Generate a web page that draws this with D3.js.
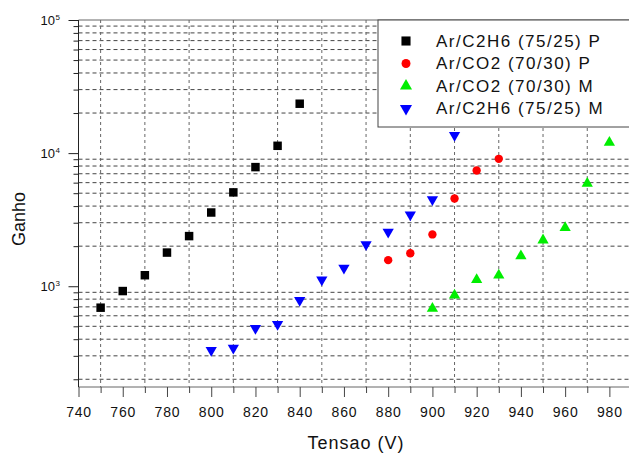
<!DOCTYPE html>
<html>
<head>
<meta charset="utf-8">
<script src="https://cdn.jsdelivr.net/npm/d3@7"></script>
<style>
	body { margin: 0; background: #fff; }
	svg { display: block; font-family: "Liberation Sans", Arial, sans-serif; }
</style>
</head>
<body>
<svg id="chart"></svg>
<script>
// data
const voltsC2H6P = [750, 760, 770, 780, 790, 800, 810, 820, 830, 840];
const gainC2H6P = [690, 920, 1210, 1790, 2380, 3580, 5070, 7850, 11350, 23500];
const voltsCO2P = [880, 890, 900, 910, 920, 930];
const gainCO2P = [1570, 1770, 2450, 4560, 7410, 9060];
const voltsCO2M = [900, 910, 920, 930, 940, 950, 960, 970, 980];
const gainCO2M = [680, 855, 1120, 1210, 1690, 2220, 2750, 5910, 12000];
const voltsC2H6M = [800, 810, 820, 830, 840, 850, 860, 870, 880, 890, 900, 910];
const gainC2H6M = [330, 344, 483, 518, 785, 1120, 1370, 2060, 2550, 3440, 4490, 13650];

const seriesNames = ["Ar/C2H6 (75/25) P", "Ar/CO2 (70/30) P", "Ar/CO2 (70/30) M", "Ar/C2H6 (75/25) M"];
const xTicks = d3.range(740, 1000, 20);
const xGrid = d3.range(750, 1000, 20);
const yMajor = [1e3, 1e4, 1e5];

const width = 629;
const height = 453;
const plotLeft = 78.5, plotTop = 20, plotBottom = 387;

const svg = d3.select("#chart").attr("width", width).attr("height", height);

const x = d3.scaleLinear().domain([740, 1000]).range([plotLeft, plotLeft + 260 * 2.212]);
const y = d3.scaleLog().domain([175, 1e5]).range([plotBottom, plotTop]);

// minor log values (2..9 x 10^n) used for gridlines and small ticks
const yMinor = [];
[100, 1000, 10000].forEach((d) => {
	for (let k = 2; k <= 9; k++) {
		const v = d * k;
		if (v >= 175 && v < 1e5) yMinor.push(v);
	}
});

// gridlines (only on minor ticks, like the original)
const grid = svg.append("g");
grid.selectAll("line.h")
	.data(yMinor)
	.join("line")
	.attr("x1", plotLeft).attr("x2", width)
	.attr("y1", (d) => y(d)).attr("y2", (d) => y(d))
	.attr("stroke", "#444")
	.attr("stroke-width", 1)
	.attr("stroke-dasharray", "4,3");
grid.selectAll("line.v")
	.data(xGrid)
	.join("line")
	.attr("x1", (d) => x(d)).attr("x2", (d) => x(d))
	.attr("y1", plotTop).attr("y2", plotBottom)
	.attr("stroke", "#666")
	.attr("stroke-width", 1)
	.attr("stroke-dasharray", "3,3");

// top frame
svg.append("line")
	.attr("x1", plotLeft).attr("x2", width)
	.attr("y1", plotTop).attr("y2", plotTop)
	.attr("stroke", "#666");

// x axis
const xAxis = svg.append("g")
	.attr("transform", `translate(0,${plotBottom})`)
	.call(d3.axisBottom(x).tickValues(xTicks).tickSize(10).tickPadding(10).tickFormat(d3.format("d")));
xAxis.select(".domain").attr("stroke", "#666").attr("d", `M${plotLeft},0H${width}`);
xAxis.selectAll(".tick line").attr("stroke", "#444");
xAxis.selectAll(".tick text")
	.attr("font-size", 14)
	.attr("letter-spacing", 0.8)
	.attr("fill", "#111");
svg.append("g")
	.attr("transform", `translate(0,${plotBottom})`)
	.call(d3.axisBottom(x).tickValues(xGrid).tickSize(6).tickFormat(""))
	.call((g) => g.select(".domain").remove())
	.selectAll(".tick line").attr("stroke", "#444");

// y axis
const yAxis = svg.append("g")
	.attr("transform", `translate(${plotLeft},0)`)
	.call(d3.axisLeft(y).tickValues(yMajor).tickSize(10).tickPadding(4).tickFormat(""));
yAxis.select(".domain").attr("stroke", "#222").attr("d", `M0,${plotBottom}V${plotTop}`);
yAxis.selectAll(".tick line").attr("stroke", "#222");
yAxis.selectAll(".tick text")
	.attr("x", -38)
	.attr("text-anchor", "start")
	.attr("font-size", 13)
	.attr("fill", "#111")
	.each(function (d) {
		const t = d3.select(this);
		t.append("tspan").text("10");
		t.append("tspan").attr("dy", -5).attr("dx", 0.5).attr("font-size", 8).text(Math.round(Math.log10(d)));
	});
svg.append("g")
	.attr("transform", `translate(${plotLeft},0)`)
	.call(d3.axisLeft(y).tickValues(yMinor).tickSize(5).tickFormat(""))
	.call((g) => g.select(".domain").remove())
	.selectAll(".tick line").attr("stroke", "#222");

// axis titles
svg.append("text")
	.attr("x", 356)
	.attr("y", 449)
	.attr("text-anchor", "middle")
	.attr("font-size", 18)
	.attr("letter-spacing", 1)
	.attr("fill", "#111")
	.text("Tensao (V)");
svg.append("text")
	.attr("transform", "translate(25,219) rotate(-90)")
	.attr("text-anchor", "middle")
	.attr("font-size", 18)
	.attr("fill", "#111")
	.text("Ganho");

// points
const series = [
	{ xs: voltsC2H6P, ys: gainC2H6P, color: "#000000", symbol: d3.symbolSquare, size: 72, rot: 0 },
	{ xs: voltsCO2P, ys: gainCO2P, color: "#ff0000", symbol: d3.symbolCircle, size: 55, rot: 0 },
	{ xs: voltsCO2M, ys: gainCO2M, color: "#00ee00", symbol: d3.symbolTriangle, size: 55, rot: 0 },
	{ xs: voltsC2H6M, ys: gainC2H6M, color: "#0000ff", symbol: d3.symbolTriangle, size: 55, rot: 180 }
];

series.forEach((s) => {
	const path = d3.symbol().type(s.symbol).size(s.size)();
	svg.append("g")
		.selectAll("path")
		.data(s.xs.map((v, i) => [v, s.ys[i]]))
		.join("path")
		.attr("d", path)
		.attr("fill", s.color)
		.attr("transform", (d) => `translate(${x(d[0])},${y(d[1])}) rotate(${s.rot})`);
});

// legend
const legend = svg.append("g").attr("transform", "translate(378,20)");
legend.append("rect")
	.attr("x", 0).attr("y", 0)
	.attr("width", 270).attr("height", 107)
	.attr("fill", "#fff")
	.attr("stroke", "#444");
const rows = legend.selectAll("g.row")
	.data(series)
	.join("g")
	.attr("transform", (d, i) => `translate(0,${21 + i * 22.5})`);
rows.append("path")
	.attr("d", (d) => d3.symbol().type(d.symbol).size(d.size * 1.15)())
	.attr("fill", (d) => d.color)
	.attr("transform", (d) => `translate(28,0) rotate(${d.rot})`);
rows.append("text")
	.attr("x", 58)
	.attr("dy", "0.35em")
	.attr("font-size", 17)
	.attr("letter-spacing", 1.5)
	.attr("fill", "#111")
	.text((d, i) => seriesNames[i]);
</script>
</body>
</html>
